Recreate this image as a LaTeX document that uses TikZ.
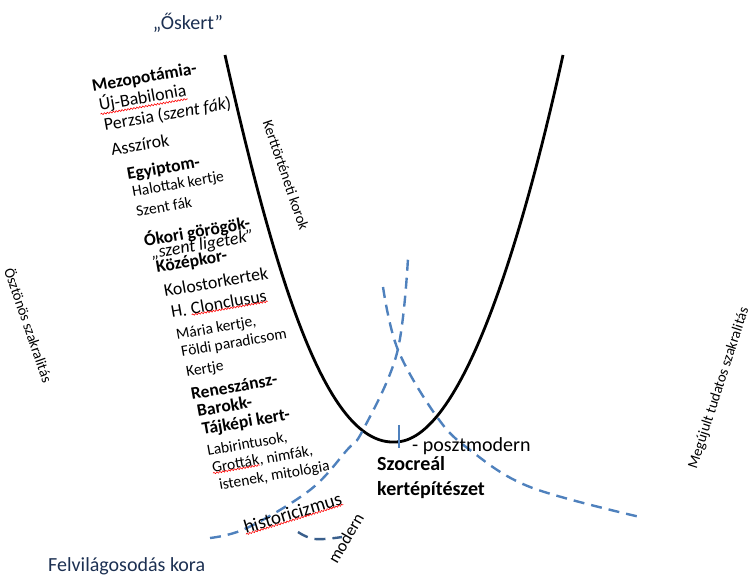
\documentclass[tikz,border=0pt]{standalone}
\usepackage{fontspec}
\setmainfont{Carlito}
\usetikzlibrary{decorations.pathmorphing}
\definecolor{dashblue}{RGB}{79,129,189}
\definecolor{darkdash}{RGB}{58,95,140}
\definecolor{navytext}{RGB}{28,48,82}
\begin{document}
\begin{tikzpicture}[x=1pt,y=-1pt,
  lbl/.style={inner sep=0pt, anchor=base west, rotate=10, font=\fontsize{17.8}{21}\selectfont},
  lblb/.style={lbl, font=\bfseries\fontsize{17.5}{21}\selectfont},
  lbls/.style={lbl, font=\fontsize{15.5}{19}\selectfont},
  side/.style={inner sep=0pt, font=\fontsize{14.8}{17}\selectfont},
  title/.style={inner sep=0pt, font=\fontsize{20}{24}\selectfont, text=navytext},
  ucurve/.style={line width=2.8pt, black},
  dcurve/.style={line width=2.4pt, dashblue, dash pattern=on 11pt off 7pt},
  squig/.style={red, line width=0.6pt, decorate, decoration={snake, amplitude=0.8pt, segment length=3pt}},
]
\useasboundingbox (0,0) rectangle (753,577);

% main U curve
\coordinate (utopL) at (225,55);
\coordinate (ubot) at (395,442);
\coordinate (utopR) at (563,55);
\draw[ucurve] (utopL) .. controls (280,300) and (330,445) .. (ubot)
  .. controls (460,442) and (520,250) .. (utopR);

% dashed curves
\draw[dcurve] plot[smooth, tension=0.6] coordinates {(210,538) (247,528) (310,490) (347,450) (363,430) (397,353) (408,258)};
\draw[dcurve] plot[smooth, tension=0.6] coordinates {(383,287) (398,350) (437,417) (470,450) (530,487) (640,517)};
\draw[dcurve, darkdash] plot[smooth, tension=0.7] coordinates {(298,532) (315,539) (342,537)};
\coordinate (tickA) at (399,425);
\coordinate (tickB) at (399,448);
\draw[line width=2.4pt, dashblue] (tickA) -- (tickB);

% titles
\node[title, anchor=base] (osk) at (188,30) {„Őskert”};
\node[title, anchor=base west] (felv) at (48,571) {Felvilágosodás kora};

% side labels
\node[side, rotate=-71] (kert) at (286,175) {Kerttörténeti korok};
\node[side, rotate=-71] (oszt) at (29,325) {Ösztönös szakralitás};
\node[side, rotate=72] (megu) at (719,388) {Megújult tudatos szakralitás};

% left text block
\node[lblb] (l1) at (93,92) {Mezopotámia-};
\node[lbl] (l2) at (100,111) {Új-Babilonia};
\node[lbl] (l3) at (105,131) {Perzsia (\textit{szent fák})};
\node[lbl] (l4) at (112,156) {Asszírok};
\node[lblb] (l5) at (128,180) {Egyiptom-};
\node[lbls] (l6) at (133,197) {Halottak kertje};
\node[lbls] (l7) at (137,217) {Szent fák};
\node[lblb] (l8) at (145,247) {Ókori görögök-};
\node[lbl] (l9) at (152,259) {\textit{„szent ligetek”}};
\node[lblb] (l10) at (157,273) {Középkor-};
\node[lbl] (l11) at (165,297) {Kolostorkertek};
\node[lbl] (l12a) at (172,318) {H.\kern0.23em};
\node[lbl] (l12b) at (l12a.base east) {Clonclusus};
\node[lbls] (l13) at (177,340) {Mária kertje,};
\node[lbls] (l14) at (182,357) {Földi paradicsom};
\node[lbls] (l15) at (187,377) {Kertje};
\node[lblb] (l16) at (192,400) {Reneszánsz-};
\node[lblb] (l17) at (198,417) {Barokk-};
\node[lblb] (l18) at (203,435) {Tájképi kert-};
\node[lbls] (l19) at (208,456) {Labirintusok,};
\node[lbls] (l20a) at (213,473) {Grották};
\node[lbls] (l20b) at (l20a.base east) {, nimfák,};
\node[lbls] (l21) at (220,490) {istenek, mitológia};

% lower labels
\node[inner sep=0pt, anchor=base west, rotate=17, font=\fontsize{19}{22}\selectfont] (hist) at (246,534) {historicizmus};
\node[inner sep=0pt, anchor=base west, rotate=60, font=\fontsize{17}{20}\selectfont] (mod) at (337,565) {modern};
\node[inner sep=0pt, anchor=base west, font=\fontsize{20}{24}\selectfont] (poszt) at (412,451) {- posztmodern};
\node[inner sep=0pt, anchor=base west, font=\bfseries\fontsize{20}{24}\selectfont] (szoc1) at (377,471) {Szocreál};
\node[inner sep=0pt, anchor=base west, font=\bfseries\fontsize{20}{24}\selectfont] (szoc2) at (377,495) {kertépítészet};

% spell-check squiggles
\draw[squig] (l2.south west) -- (l2.south east);
\draw[squig] (l12b.south west) -- (l12b.south east);
\draw[squig] (l20a.south west) -- (l20a.south east);
\draw[squig] (hist.south west) -- (hist.south east);
\end{tikzpicture}
\end{document}
